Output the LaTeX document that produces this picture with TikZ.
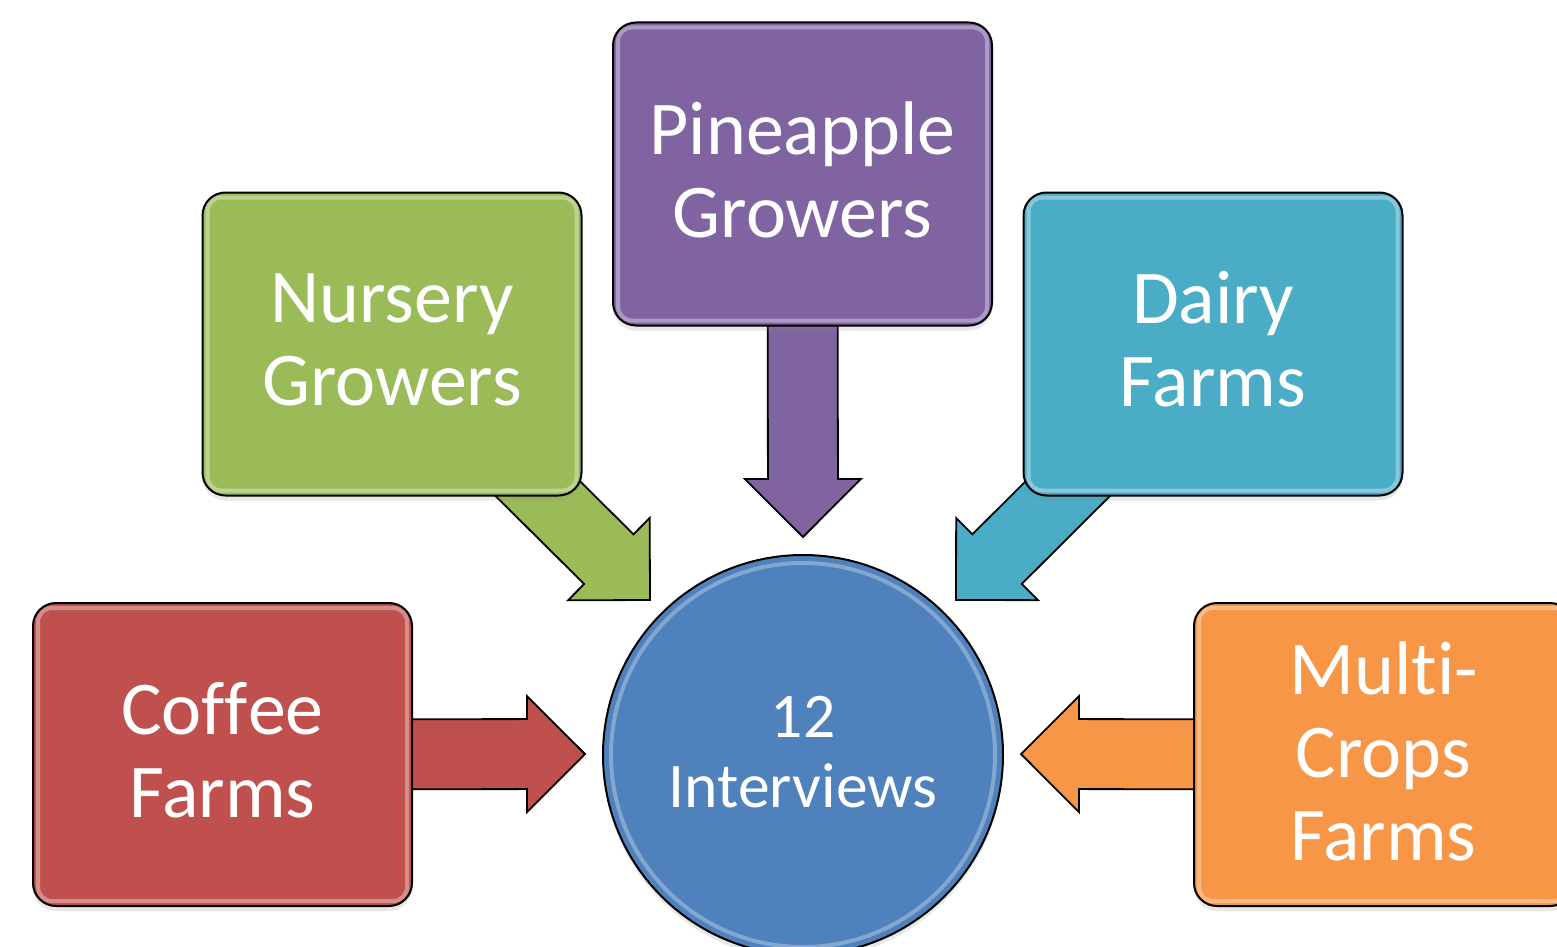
\documentclass[tikz,border=0pt]{standalone}
\usepackage{fontspec}
\setmainfont{Carlito}[Ligatures={NoCommon,NoContextual}]
\usetikzlibrary{calc,shadows}
\definecolor{cred}{HTML}{C0504D}
\definecolor{cgreen}{HTML}{9BBB59}
\definecolor{cpurple}{HTML}{8064A2}
\definecolor{ccyan}{HTML}{4BACC6}
\definecolor{corange}{HTML}{F79646}
\definecolor{cblue}{HTML}{4F81BD}
\newcommand\myblockarrow[3]{%
  \coordinate (hb) at ($(#2)!29pt!(#1)$);
  \coordinate (h1) at ($(hb)!29pt!90:(#2)$);
  \coordinate (h2) at ($(hb)!29pt!-90:(#2)$);
  \coordinate (s1) at ($(hb)!17.5pt!90:(#2)$);
  \coordinate (s2) at ($(hb)!17.5pt!-90:(#2)$);
  \coordinate (t1) at ($(#1)!17.5pt!90:(hb)$);
  \coordinate (t2) at ($(#1)!17.5pt!-90:(hb)$);
  \draw[arrowshape, fill=#3] (#2) -- (h1) -- (s1) -- (t1) -- (t2) -- (s2) -- (h2) -- cycle;
}
\newcommand\mygloss[1]{%
  \draw[glossline] ($(#1.north west)+(6,6)$) rectangle ($(#1.south east)+(-6,-6)$);
}
\begin{document}
\begin{tikzpicture}[x=0.5pt,y=-0.5pt,
  boxnode/.style={draw=black, line width=1pt, rounded corners=11.5pt,
    minimum width=189.5pt, minimum height=151.5pt, inner sep=0pt,
    drop shadow={opacity=0.18, shadow xshift=0pt, shadow yshift=-2.5pt}},
  boxtext/.style={text=white, align=center, inner sep=0pt,
    font=\fontsize{38}{41.5}\selectfont},
  circnode/.style={circle, draw=black, line width=1pt, fill=cblue,
    minimum size=200pt, inner sep=0pt,
    drop shadow={opacity=0.18, shadow xshift=0pt, shadow yshift=-2.5pt}},
  circtext/.style={text=white, align=center, inner sep=0pt,
    font=\fontsize{31.8}{35}\selectfont},
  arrowshape/.style={draw=black, line width=0.9pt, line join=miter},
  glossline/.style={draw=white, opacity=0.35, line width=2pt, rounded corners=7pt}]
\useasboundingbox (0,0) rectangle (1557,947);
\fill[white] (0,0) rectangle (1557,947);

% tips of the block arrows
\coordinate (tipcoffee) at (585,754);
\coordinate (tipnursery) at (650,600);
\coordinate (tippine) at (803,537);
\coordinate (tipdairy) at (956,600);
\coordinate (tipmulti) at (1021,754);

% box centres (used as arrow starts)
\coordinate (ccoffee) at (222.5,754.5);
\coordinate (cnursery) at (392,344);
\coordinate (cpine) at (802.5,174);
\coordinate (cdairy) at (1213,344);
\coordinate (cmulti) at (1383.5,754.5);

\myblockarrow{ccoffee}{tipcoffee}{cred}
\myblockarrow{cnursery}{tipnursery}{cgreen}
\myblockarrow{cpine}{tippine}{cpurple}
\myblockarrow{cdairy}{tipdairy}{ccyan}
\myblockarrow{cmulti}{tipmulti}{corange}

\node[boxnode, fill=cred] (coffee) at (ccoffee) {};
\node[boxnode, fill=cgreen] (nursery) at (cnursery) {};
\node[boxnode, fill=cpurple] (pine) at (cpine) {};
\node[boxnode, fill=ccyan] (dairy) at (cdairy) {};
\node[boxnode, fill=corange] (multi) at (cmulti) {};

\mygloss{coffee}
\mygloss{nursery}
\mygloss{pine}
\mygloss{dairy}
\mygloss{multi}

\node[boxtext] (coffeetxt) at ($(coffee.center)+(0,-4.5)$) {Cof\kern0ptf\kern0ptee\\Farms};
\node[boxtext] (nurserytxt) at ($(nursery.center)+(0,-4.5)$) {Nursery\\Growers};
\node[boxtext] (pinetxt) at ($(pine.center)+(0,-4.5)$) {Pineapple\\Growers};
\node[boxtext] (dairytxt) at ($(dairy.center)+(0,-4.5)$) {Dairy\\Farms};
\node[boxtext] (multitxt) at ($(multi.center)+(0,-3)$) {Mult\kern0pt i-\\Crops\\Farms};

\node[circnode] (center) at (803,755) {};
\draw[draw=white, opacity=0.3, line width=2pt] (center.center) circle[radius=96pt];
\node[circtext] (centertxt) at ($(center.center)+(0,-3)$) {12\\Interviews};
\end{tikzpicture}
\end{document}
